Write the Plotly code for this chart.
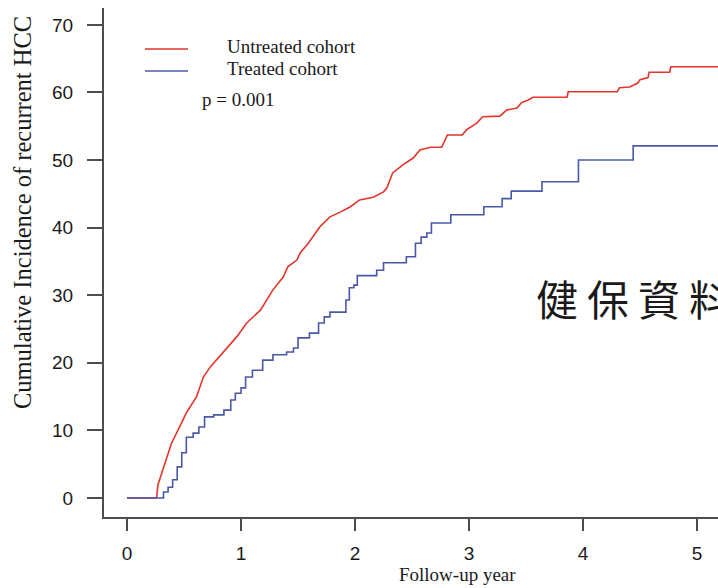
import plotly.graph_objects as go

# Follow-up time (years) and cumulative incidence (%) of recurrent HCC
untreated_t = [0, 0.26, 0.27, 0.35, 0.39, 0.46, 0.52, 0.61, 0.67, 0.73,
               0.84, 0.96, 1.05, 1.17, 1.28, 1.37, 1.41, 1.49, 1.52, 1.59,
               1.69, 1.78, 1.87, 1.96, 2.04, 2.16, 2.25, 2.28, 2.33, 2.42,
               2.51, 2.57, 2.66, 2.76, 2.81, 2.94, 2.98, 3.07, 3.12, 3.27,
               3.33, 3.42, 3.46, 3.52, 3.56, 3.86, 3.87, 4.30, 4.32, 4.41,
               4.48, 4.50, 4.57, 4.58, 4.76, 4.77, 5.20]
untreated_v = [0, 0, 1.9, 6.1, 8.1, 10.5, 12.6, 15.0, 17.9, 19.4,
               21.5, 23.8, 25.9, 27.8, 30.8, 32.7, 34.2, 35.2, 36.3, 37.7,
               40.1, 41.6, 42.3, 43.1, 44.1, 44.5, 45.3, 45.9, 48.1, 49.3,
               50.3, 51.5, 51.9, 51.9, 53.7, 53.7, 54.5, 55.5, 56.4, 56.5,
               57.4, 57.7, 58.5, 58.9, 59.3, 59.3, 60.1, 60.1, 60.7, 60.8,
               61.4, 61.9, 62.2, 63.0, 63.0, 63.8, 63.8]

treated_t = [0, 0.32, 0.36, 0.40, 0.44, 0.48, 0.52, 0.58, 0.63, 0.68,
             0.76, 0.85, 0.91, 0.95, 1.00, 1.04, 1.10, 1.19, 1.28, 1.40,
             1.46, 1.50, 1.60, 1.68, 1.73, 1.78, 1.92, 1.95, 1.99, 2.02,
             2.19, 2.25, 2.45, 2.53, 2.58, 2.63, 2.67, 2.84, 3.13, 3.29,
             3.37, 3.64, 3.96, 4.44, 5.20]
treated_v = [0, 0.9, 1.6, 2.7, 4.6, 6.7, 9.0, 9.6, 10.5, 12.0,
             12.3, 13.0, 14.5, 15.5, 16.3, 17.9, 18.9, 20.4, 21.2, 21.6,
             22.2, 23.7, 24.4, 25.9, 26.8, 27.5, 29.3, 31.1, 31.5, 32.9,
             33.7, 34.8, 35.7, 37.7, 38.6, 39.2, 40.7, 41.9, 43.1, 44.3,
             45.4, 46.8, 50.0, 52.1, 52.1]

series_names = ["Untreated cohort", "Treated cohort"]
series_colors = ["#E2352B", "#4A58A8"]
x_ticks = [0, 1, 2, 3, 4, 5]
y_ticks = [0, 10, 20, 30, 40, 50, 60, 70]
p_text = "p = 0.001"
x_title = "Follow-up year"
y_title = "Cumulative Incidence of recurrent HCC"
watermark = "健保資料"

SERIF = "Liberation Serif, Times New Roman, serif"
SANS = "Liberation Sans, Arial, sans-serif"
AXIS_GREY = "#4d4d4d"

fig = go.Figure()
fig.add_trace(go.Scatter(x=untreated_t, y=untreated_v, mode="lines",
                         name=series_names[0], line=dict(color=series_colors[0], width=1.6),
                         showlegend=False))
fig.add_trace(go.Scatter(x=treated_t, y=treated_v, mode="lines", line_shape="hv",
                         name=series_names[1], line=dict(color=series_colors[1], width=1.6),
                         showlegend=False))

# Hand-placed key in the upper-left corner
key_rows = [0.9194, 0.8762]
for name, color, yk in zip(series_names, series_colors, key_rows):
    fig.add_shape(type="line", xref="paper", yref="paper",
                  x0=0.0668, x1=0.1368, y0=yk, y1=yk,
                  line=dict(color=color, width=1.6))
    fig.add_annotation(xref="paper", yref="paper", x=0.1965, y=yk + 0.004,
                       xanchor="left", yanchor="middle", showarrow=False,
                       text=name, font=dict(family=SERIF, size=19, color="#1a1a1a"))

fig.add_annotation(xref="paper", yref="paper", x=0.1560, y=0.8193,
                   xanchor="left", yanchor="middle", showarrow=False,
                   text=p_text, font=dict(family=SERIF, size=19, color="#1a1a1a"))

# Axis titles
fig.add_annotation(xref="paper", yref="paper", x=-0.1336, y=0.5990,
                   xanchor="center", yanchor="middle", showarrow=False, textangle=-90,
                   text=y_title, font=dict(family=SERIF, size=24.5, color="#1a1a1a"))
fig.add_annotation(xref="paper", yref="paper", x=0.575, y=-0.1130,
                   xanchor="center", yanchor="middle", showarrow=False,
                   text=x_title, font=dict(family=SERIF, size=19, color="#1a1a1a"))

# Data-source stamp
fig.add_annotation(xref="paper", yref="paper", x=0.700, y=0.432,
                   xanchor="left", yanchor="middle", showarrow=False,
                   text='<span style="letter-spacing:9px">' + watermark + '</span>',
                   font=dict(family="Noto Sans CJK TC", size=42, color="#1a1a1a"))

axis_common = dict(showgrid=False, zeroline=False, showline=True,
                   linecolor=AXIS_GREY, linewidth=2, ticks="outside",
                   tickcolor=AXIS_GREY, tickwidth=2,
                   tickfont=dict(family=SANS, size=19, color="#1a1a1a"))

fig.update_xaxes(range=[-0.202, 5.184], tickvals=x_ticks, ticklen=12,
                 ticklabelstandoff=6, **axis_common)
fig.update_yaxes(range=[-2.81, 72.5], tickvals=y_ticks, ticklen=15,
                 ticklabelstandoff=10, **axis_common)

fig.update_layout(width=718, height=588,
                  margin=dict(l=104, r=0, t=8, b=71),
                  paper_bgcolor="white", plot_bgcolor="white")

fig.write_html("out.html")
